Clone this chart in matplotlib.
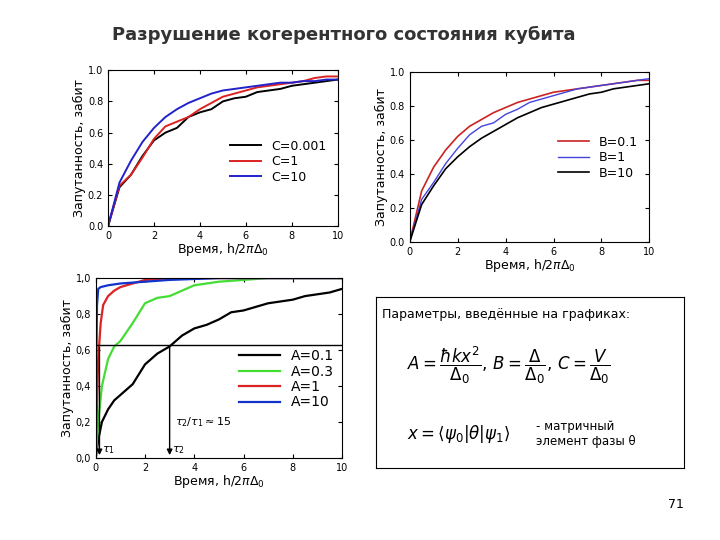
import numpy as np
import matplotlib
matplotlib.use("Agg")
import matplotlib.pyplot as plt

plt.rcParams['font.family'] = ['DejaVu Sans']

# top-left: C series
t_c = [0, .5, 1, 1.5, 2, 2.5, 3, 3.5, 4, 4.5, 5, 5.5, 6, 6.5, 7, 7.5, 8, 8.5, 9, 9.5, 10]
c_0001 = [0, .25, .33, .45, .55, .60, .63, .70, .73, .75, .80, .82, .83, .86, .87, .88, .90, .91, .92, .93, .94]
c_1 = [0, .26, .33, .44, .56, .64, .67, .70, .75, .79, .83, .85, .87, .89, .90, .91, .92, .93, .95, .96, .96]
c_10 = [0, .28, .42, .54, .63, .70, .75, .79, .82, .85, .87, .88, .89, .90, .91, .92, .92, .93, .93, .94, .94]

# top-right: B series
b_01 = [0, .30, .44, .54, .62, .68, .72, .76, .79, .82, .84, .86, .88, .89, .90, .91, .92, .93, .94, .95, .95]
b_1 = [0, .25, .35, .46, .55, .63, .68, .70, .75, .78, .82, .84, .86, .88, .90, .91, .92, .93, .94, .95, .96]
b_10 = [0, .22, .33, .43, .50, .56, .61, .65, .69, .73, .76, .79, .81, .83, .85, .87, .88, .90, .91, .92, .93]

# bottom-left: A series
t_a01 = [0, .1, .25, .5, .75, 1, 1.5, 2, 2.5, 3, 3.5, 4, 4.5, 5, 5.5, 6, 6.5, 7, 7.5, 8, 8.5, 9, 9.5, 10]
a_01 = [0, .1, .2, .27, .32, .35, .41, .52, .58, .62, .68, .72, .74, .77, .81, .82, .84, .86, .87, .88, .90, .91, .92, .94]
t_a03 = [0, .1, .25, .5, .75, 1, 1.5, 2, 2.5, 3, 3.5, 4, 5, 6, 7, 10]
a_03 = [0, .2, .4, .55, .62, .65, .75, .86, .89, .90, .93, .96, .98, .99, 1, 1]
t_a1 = [0, .05, .1, .2, .3, .5, .75, 1, 1.5, 2, 3, 10]
a_1 = [0, .3, .55, .75, .85, .90, .93, .95, .97, .99, 1, 1]
t_a10 = [0, .02, .05, .1, .2, .5, 1, 2, 3, 5, 10]
a_10 = [0, .5, .85, .94, .95, .96, .97, .98, .99, 1, 1]

tau1, tau2, level = 0.15, 3.0, 0.63

ylab = 'Запутанность, забит'
xlab = 'Время, h/2$\\pi\\Delta_0$'

fig = plt.figure(figsize=(7.2, 5.4), dpi=100)
fig.text(0.155, 0.925, 'Разрушение когерентного состояния кубита', fontsize=13, weight='bold', color='#333333')


def style(ax, fs=7):
    ax.set_xlim(0, 10)
    ax.set_ylim(0, 1)
    ax.set_xticks([0, 2, 4, 6, 8, 10])
    ax.set_yticks([0, .2, .4, .6, .8, 1])
    ax.tick_params(labelsize=fs, direction='in', top=True, right=True, length=3)
    ax.set_xlabel(xlab, fontsize=fs + 2, labelpad=0)
    ax.set_ylabel(ylab, fontsize=fs + 2, labelpad=1)


ax1 = fig.add_axes([0.15, 0.581, 0.319, 0.289])
ax1.plot(t_c, c_0001, color='black', lw=1.4, label='C=0.001')
ax1.plot(t_c, c_1, color='#dd2222', lw=1.4, label='C=1')
ax1.plot(t_c, c_10, color='#2222cc', lw=1.4, label='C=10')
style(ax1)
ax1.set_yticklabels(['0.0', '0.2', '0.4', '0.6', '0.8', '1.0'])
ax1.legend(loc='lower right', bbox_to_anchor=(1.0, 0.2), frameon=False, fontsize=9, handlelength=2.5, labelspacing=0.2)

ax2 = fig.add_axes([0.569, 0.552, 0.333, 0.315])
ax2.plot(t_c, b_01, color='#cc2222', lw=1.2, label='B=0.1')
ax2.plot(t_c, b_1, color='#4444dd', lw=1.0, label='B=1')
ax2.plot(t_c, b_10, color='black', lw=1.2, label='B=10')
style(ax2)
ax2.set_yticklabels(['0.0', '0.2', '0.4', '0.6', '0.8', '1.0'])
ax2.legend(loc='lower right', bbox_to_anchor=(1.0, 0.3), frameon=False, fontsize=9, handlelength=2.5, labelspacing=0.2)

ax3 = fig.add_axes([0.133, 0.152, 0.342, 0.333])
ax3.plot(t_a01, a_01, color='black', lw=1.6, label='A=0.1')
ax3.plot(t_a03, a_03, color='#44dd33', lw=1.6, label='A=0.3')
ax3.plot(t_a1, a_1, color='#dd2222', lw=1.6, label='A=1')
ax3.plot(t_a10, a_10, color='#1133cc', lw=1.6, label='A=10')
ax3.axhline(level, color='black', lw=1)
for tt, nm in [(tau1, '$\\tau_1$'), (tau2, '$\\tau_2$')]:
    ax3.annotate('', xy=(tt, 0), xytext=(tt, level),
                 arrowprops=dict(arrowstyle='-|>', color='black', lw=1, mutation_scale=8))
    ax3.text(tt + 0.1, 0.03, nm, fontsize=8, family='serif')
ax3.text(3.2, 0.18, '$\\tau_2/\\tau_1\\approx15$', fontsize=8, family='serif')
style(ax3)
ax3.set_yticklabels(['0,0', '0,2', '0,4', '0,6', '0,8', '1,0'])
ax3.legend(loc='lower right', bbox_to_anchor=(1.02, 0.2), frameon=False, fontsize=10, handlelength=3, labelspacing=0.1)

# text box
box = fig.add_axes([0.522, 0.133, 0.428, 0.317])
box.set_xticks([])
box.set_yticks([])
box.set_xlim(0, 1)
box.set_ylim(0, 1)
box.text(0.02, 0.9, 'Параметры, введённые на графиках:', fontsize=9, va='center')
box.text(0.1, 0.6, r'$A=\dfrac{\hbar k x^2}{\Delta_0},\,B=\dfrac{\Delta}{\Delta_0},\,C=\dfrac{V}{\Delta_0}$',
         fontsize=12, va='center', family='serif')
box.text(0.1, 0.2, r'$x=\langle\psi_0|\theta|\psi_1\rangle$', fontsize=12, va='center')
box.text(0.52, 0.2, '- матричный\nэлемент фазы θ', fontsize=8.5, va='center')
fig.text(0.928, 0.06, '71', fontsize=9)

fig.savefig('out.png', dpi=100)
